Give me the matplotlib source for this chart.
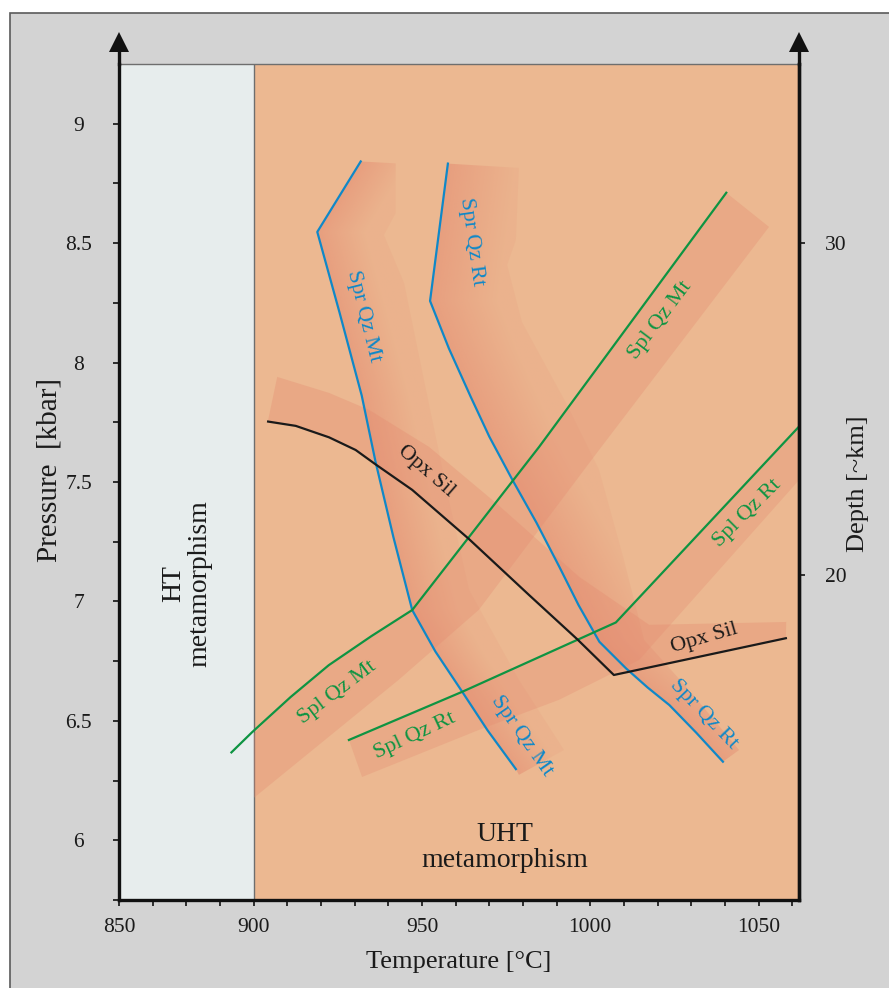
import matplotlib
matplotlib.use('Agg')
import matplotlib.pyplot as plt
import numpy as np
from matplotlib.patches import Rectangle, Polygon
from matplotlib.lines import Line2D
from matplotlib.colors import to_rgb

plt.rcParams['font.family'] = ['Liberation Serif', 'DejaVu Serif']

# ---------------- data (T in °C, P in kbar) ----------------
spr_qz_mt_T = [931.8, 918.9, 925.5, 932.1, 936.2, 941.5, 947.1, 954.0, 961.9, 969.5, 977.9]
spr_qz_mt_P = [8.842, 8.547, 8.210, 7.862, 7.585, 7.270, 6.964, 6.790, 6.623, 6.460, 6.298]

spr_qz_rt_T = [957.7, 952.4, 958.0, 964.5, 970.0, 976.9, 984.0, 990.8, 996.5, 1002.7,
               1010.6, 1017.0, 1023.5, 1031.5, 1039.4]
spr_qz_rt_P = [8.833, 8.258, 8.059, 7.856, 7.690, 7.508, 7.330, 7.145, 6.985, 6.831,
               6.720, 6.640, 6.566, 6.450, 6.329]

spl_qz_mt_T = [893.4, 899.5, 911.0, 922.3, 935.0, 947.1, 984.8, 1040.4]
spl_qz_mt_P = [6.368, 6.452, 6.600, 6.733, 6.855, 6.964, 7.647, 8.711]

spl_qz_rt_T = [928.3, 962.0, 1007.6, 1062.0]
spl_qz_rt_P = [6.420, 6.622, 6.912, 7.732]

opx_sil_T = [904.3, 912.5, 922.4, 930.3, 936.2, 947.1, 963.9, 981.8, 996.1, 1007.0, 1058.1]
opx_sil_P = [7.753, 7.735, 7.687, 7.634, 7.574, 7.467, 7.262, 7.027, 6.842, 6.692, 6.846]

# shaded uncertainty bands (outline vertices)
band_spr_mt_T = spr_qz_mt_T + [978.8, 992.2, 978.8, 964.0, 958.0, 950.6, 944.7, 938.7, 942.2, 942.2]
band_spr_mt_P = spr_qz_mt_P + [6.274, 6.378, 6.671, 7.048, 7.425, 7.927, 8.333, 8.534, 8.626, 8.834]

band_spr_rt_T = spr_qz_rt_T + [1044.2, 1029.3, 1016.0, 1010.0, 1002.6, 992.8, 979.7, 975.3, 977.9, 978.8]
band_spr_rt_P = spr_qz_rt_P + [6.378, 6.630, 6.839, 7.174, 7.551, 7.831, 8.170, 8.409, 8.513, 8.815]

band_spl_mt_T = [900.0, 911.0, 922.3, 935.0, 947.1, 984.8, 1040.4, 1053.1, 1002.6, 966.9, 943.1, 900.1]
band_spl_mt_P = [6.445, 6.600, 6.733, 6.855, 6.964, 7.647, 8.711, 8.568, 7.634, 6.965, 6.672, 6.178]

band_opx_T = [904.2, 907.0, 922.4, 934.3, 952.1, 972.0, 996.7, 1017.5, 1058.2,
              1058.1, 1007.0, 996.1, 981.8, 963.9, 947.1, 936.2, 930.3, 922.4, 912.5]
band_opx_P = [7.753, 7.940, 7.873, 7.802, 7.647, 7.412, 7.103, 6.902, 6.914,
              6.846, 6.692, 6.842, 7.027, 7.262, 7.467, 7.574, 7.634, 7.687, 7.735]

band_spl_rt_T = spl_qz_rt_T + [1062.0, 1014.5, 990.7, 966.9, 932.2]
band_spl_rt_P = spl_qz_rt_P + [7.508, 6.755, 6.588, 6.462, 6.265]

x_major = [860, 900, 950, 1000, 1050]
x_major_labels = ['850', '900', '950', '1000', '1050']
x_minor = [870, 880, 890, 910, 920, 930, 940, 960, 970, 980, 990,
           1010, 1020, 1030, 1040, 1060]
y_major = [6.0, 6.5, 7.0, 7.5, 8.0, 8.5, 9.0]
y_major_labels = ['6', '6.5', '7', '7.5', '8', '8.5', '9']
y_minor = [5.75, 6.25, 6.75, 7.25, 7.75, 8.25, 8.75]
depth_tick_P = [7.111, 8.5]
depth_tick_labels = ['20', '30']

curve_labels = [
    ('Spr Qz Mt', 932.7, 8.192, -76, 'blue'),
    ('Spr Qz Rt', 964.8, 8.506, -82, 'blue'),
    ('Spl Qz Mt', 1020.9, 8.175, 53, 'green'),
    ('Spl Qz Mt', 924.7, 6.618, 37, 'green'),
    ('Spl Qz Rt', 947.8, 6.438, 25, 'green'),
    ('Spl Qz Rt', 1046.5, 7.368, 45, 'green'),
    ('Spr Qz Mt', 979.6, 6.438, -55, 'blue'),
    ('Spr Qz Rt', 1033.7, 6.526, -46, 'blue'),
    ('Opx Sil', 951.1, 7.543, -41, 'black'),
    ('Opx Sil', 1034.0, 6.844, 16, 'black'),
]

# ---------------- styling ----------------
BLUE = '#0f88c8'
GREEN = '#0e9442'
BLACK = '#1a1a1a'
ORANGE = '#ecb891'
LIGHT = '#e7eded'
BAND = '#e48a70'
colors = {'blue': BLUE, 'green': GREEN, 'black': BLACK}

W, H = 889, 988
fig = plt.figure(figsize=(W / 100, H / 100), dpi=100)
fig.patch.set_facecolor('white')
bg = Rectangle((10 / W, -0.01), 1.0, 1 - 13 / H + 0.01, transform=fig.transFigure,
               facecolor='#d3d3d3', edgecolor='#5a5a5a', lw=1.2, zorder=-10)
fig.add_artist(bg)

ax = fig.add_axes([119 / W, 1 - 900 / H, 680 / W, 836 / H])
ax.set_facecolor('none')
XMIN, XMAX, YMIN, YMAX = 860, 1062, 5.75, 9.25
ax.set_xlim(XMIN, XMAX)
ax.set_ylim(YMIN, YMAX)

ax.axvspan(XMIN, 900, color=LIGHT, zorder=0, lw=0)
ax.axvspan(900, XMAX, color=ORANGE, zorder=0, lw=0)
ax.axvline(900, color='#6e6e6e', lw=1.0, zorder=1)
ax.axhline(YMAX, color='#6e6e6e', lw=1.0, zorder=1, clip_on=False)

# --- bands: gradient for the Spr bands, flat for the others ---
gT = np.linspace(XMIN, XMAX, 500)
gP = np.linspace(YMIN, YMAX, 800)
TT, PP = np.meshgrid(gT, gP)
rgb = np.array(to_rgb(BAND))


def gradient_band(line_T, line_P, outline_T, outline_P, width, a0, a1):
    lt = np.interp(PP, line_P[::-1], line_T[::-1])
    frac = np.clip((TT - lt) / width, 0, 1)
    alpha = a0 - (a0 - a1) * frac
    img = np.zeros(TT.shape + (4,))
    img[..., :3] = rgb
    img[..., 3] = alpha
    poly = Polygon(list(zip(outline_T, outline_P)), closed=True, fill=False, lw=0)
    ax.add_patch(poly)
    im = ax.imshow(img, extent=[XMIN, XMAX, YMIN, YMAX], origin='lower',
                   aspect='auto', interpolation='bilinear', zorder=2)
    im.set_clip_path(poly)


gradient_band(spr_qz_mt_T, spr_qz_mt_P, band_spr_mt_T, band_spr_mt_P, 14, 0.55, 0.12)
gradient_band(spr_qz_rt_T, spr_qz_rt_P, band_spr_rt_T, band_spr_rt_P, 20, 0.55, 0.12)

for bt, bp, a in [(band_spl_mt_T, band_spl_mt_P, 0.32), (band_opx_T, band_opx_P, 0.34),
                  (band_spl_rt_T, band_spl_rt_P, 0.30)]:
    ax.add_patch(Polygon(list(zip(bt, bp)), closed=True, facecolor=BAND,
                         alpha=a, lw=0, zorder=2))

ax.plot(spr_qz_mt_T, spr_qz_mt_P, color=BLUE, lw=1.6, zorder=4)
ax.plot(spr_qz_rt_T, spr_qz_rt_P, color=BLUE, lw=1.6, zorder=4)
ax.plot(spl_qz_mt_T, spl_qz_mt_P, color=GREEN, lw=1.6, zorder=4, clip_on=False)
ax.plot(spl_qz_rt_T, spl_qz_rt_P, color=GREEN, lw=1.6, zorder=4)
ax.plot(opx_sil_T, opx_sil_P, color=BLACK, lw=1.6, zorder=4)

for txt, tx, ty, rot, c in curve_labels:
    ax.text(tx, ty, txt, color=colors[c], fontsize=16, rotation=rot,
            rotation_mode='anchor', ha='center', va='center', zorder=5)

ax.text(880.1, 7.075, 'HT\nmetamorphism', rotation=90, ha='center', va='center',
        fontsize=20, color=BLACK, linespacing=1.05, zorder=5)
ax.text(974.6, 5.97, 'UHT\nmetamorphism', ha='center', va='center',
        fontsize=20, color=BLACK, linespacing=1.05, zorder=5)

# spines / ticks
for s in ['left', 'bottom', 'right']:
    ax.spines[s].set_linewidth(2.4)
    ax.spines[s].set_color('#111111')
    ax.spines[s].set_zorder(6)
ax.spines['top'].set_visible(False)

ax.set_xticks(x_major)
ax.set_xticklabels(x_major_labels)
ax.set_xticks(x_minor, minor=True)
ax.set_yticks(y_major)
ax.set_yticklabels(y_major_labels)
ax.set_yticks(y_minor, minor=True)
ax.tick_params(axis='both', which='both', direction='out', length=4.5, width=1.2,
               color='#111111', labelsize=15.5, labelcolor='#1a1a1a')
ax.tick_params(axis='x', which='major', pad=8.5)
ax.tick_params(axis='y', which='major', pad=24.5)
for lab in ax.get_yticklabels():
    lab.set_ha('center')

ax2 = ax.twinx()
ax2.set_ylim(YMIN, YMAX)
ax2.set_yticks(depth_tick_P)
ax2.set_yticklabels(depth_tick_labels)
ax2.tick_params(axis='y', direction='out', length=4.5, width=1.2, color='#111111',
                labelsize=15.5, labelcolor='#1a1a1a', pad=14)
for s in ['left', 'top', 'bottom']:
    ax2.spines[s].set_visible(False)
ax2.spines['right'].set_linewidth(2.4)
ax2.spines['right'].set_color('#111111')

# axis arrows above the plot area
ext = (64 - 52) / 836
tip = (64 - 32) / 836
hw = 10 / 680
for xa in (0.0, 1.0):
    ax.add_line(Line2D([xa, xa], [1.0, 1.0 + ext + 0.004], transform=ax.transAxes,
                       color='#111111', lw=2.4, clip_on=False, zorder=6))
    ax.add_patch(Polygon([[xa - hw, 1 + ext], [xa + hw, 1 + ext], [xa, 1 + tip]],
                         closed=True, transform=ax.transAxes, facecolor='#111111',
                         edgecolor='none', clip_on=False, zorder=6))

fig.text(459 / W, 1 - 968 / H, 'Temperature [°C]', ha='center', va='baseline',
         fontsize=19, color='#1a1a1a')
fig.text(50 / W, 1 - 470 / H, 'Pressure  [kbar]', ha='center', va='center',
         rotation=90, fontsize=21, color='#1a1a1a')
fig.text(858 / W, 1 - 484 / H, 'Depth [~km]', ha='center', va='center',
         rotation=90, fontsize=19, color='#1a1a1a')

fig.savefig('out.png', dpi=100)
